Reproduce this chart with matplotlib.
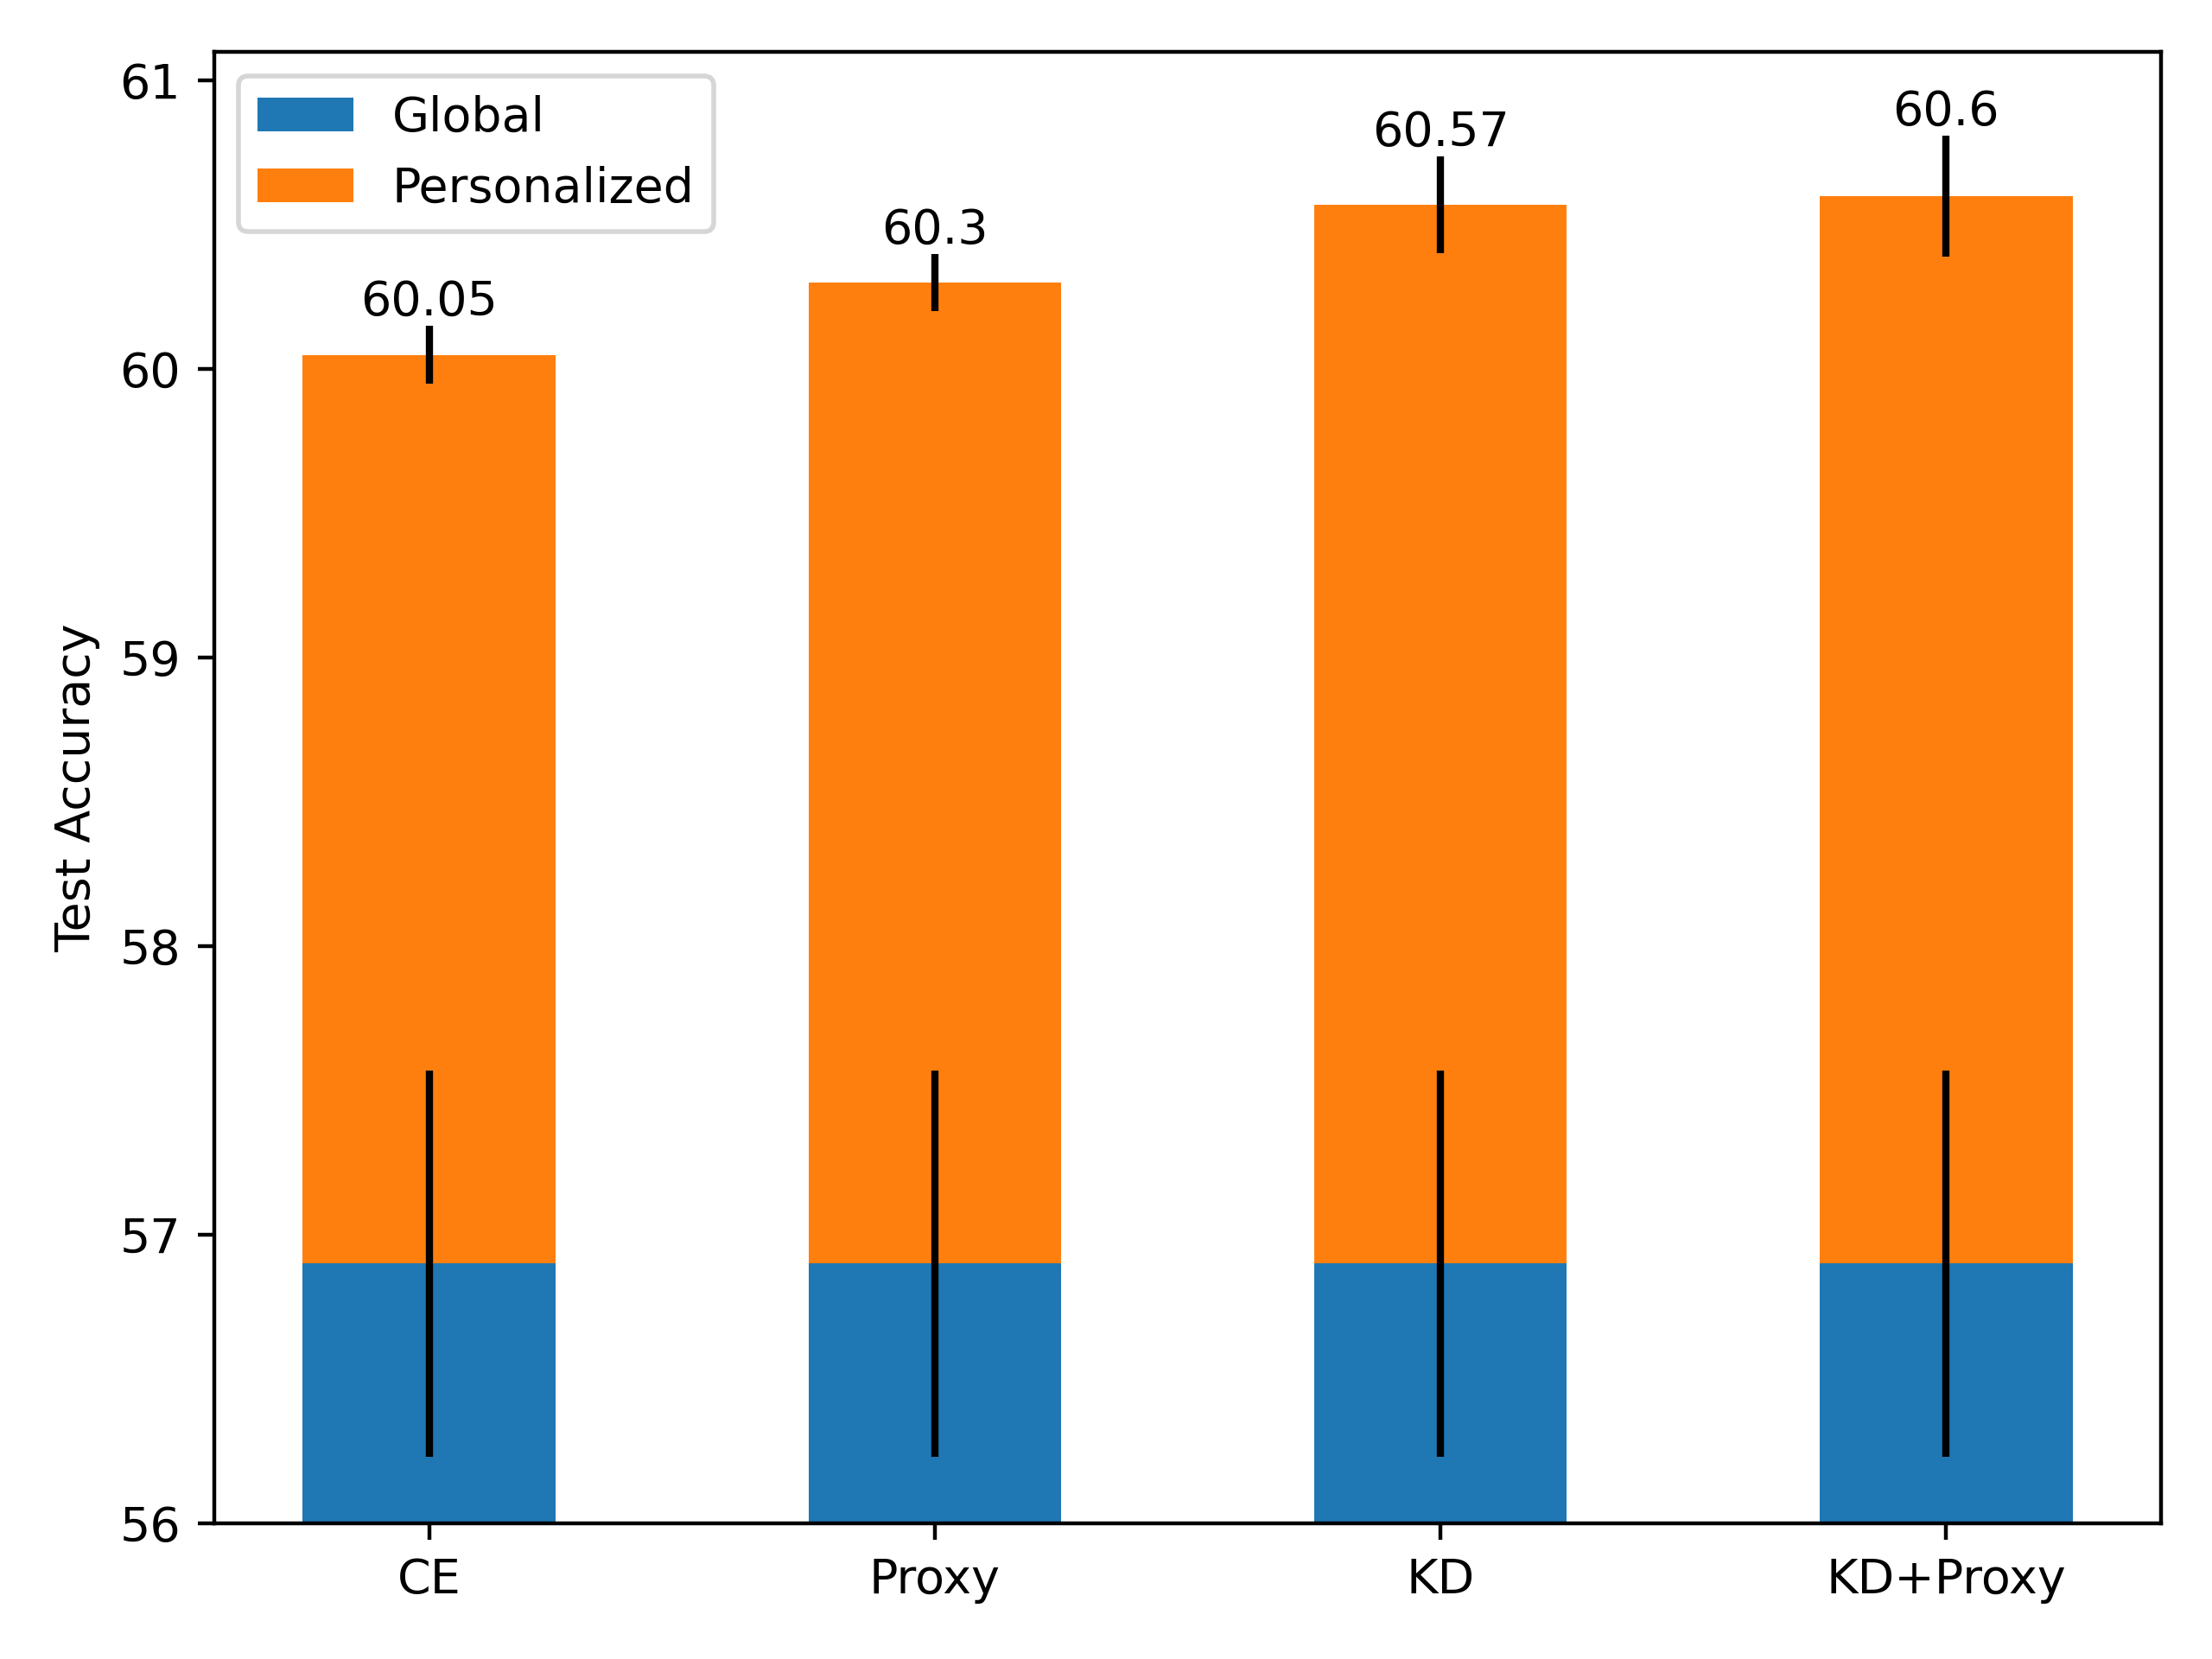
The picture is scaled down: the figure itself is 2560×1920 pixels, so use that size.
import matplotlib.pyplot as plt
import numpy as np

methods = ["CE", "Proxy", "KD", "KD+Proxy"]
global_acc = [56.9, 56.9, 56.9, 56.9]
global_err = [0.67, 0.67, 0.67, 0.67]
pers_acc = [60.05, 60.3, 60.57, 60.6]
pers_err = [0.10, 0.10, 0.167, 0.21]


def main() -> None:
    fig, ax = plt.subplots(figsize=(6.4, 4.8), dpi=400)
    x = np.arange(len(methods))
    width = 0.5

    ax.bar(x, global_acc, width, yerr=global_err, label="Global", color="C0")
    pers_height = [p - g for p, g in zip(pers_acc, global_acc)]
    ax.bar(x, pers_height, width, bottom=global_acc, yerr=pers_err,
           label="Personalized", color="C1")

    for xi, p, e in zip(x, pers_acc, pers_err):
        ax.text(xi, p + e, f"{p:g}", ha="center", va="bottom")

    ax.set_xticks(x)
    ax.set_xticklabels(methods)
    ax.set_ylabel("Test Accuracy")
    ax.set_ylim(56, 61.1)
    ax.legend(loc="upper left")

    fig.subplots_adjust(left=0.0969, right=0.977, bottom=0.0818, top=0.9688)
    fig.savefig("out.png", dpi=400)


if __name__ == "__main__":
    main()
